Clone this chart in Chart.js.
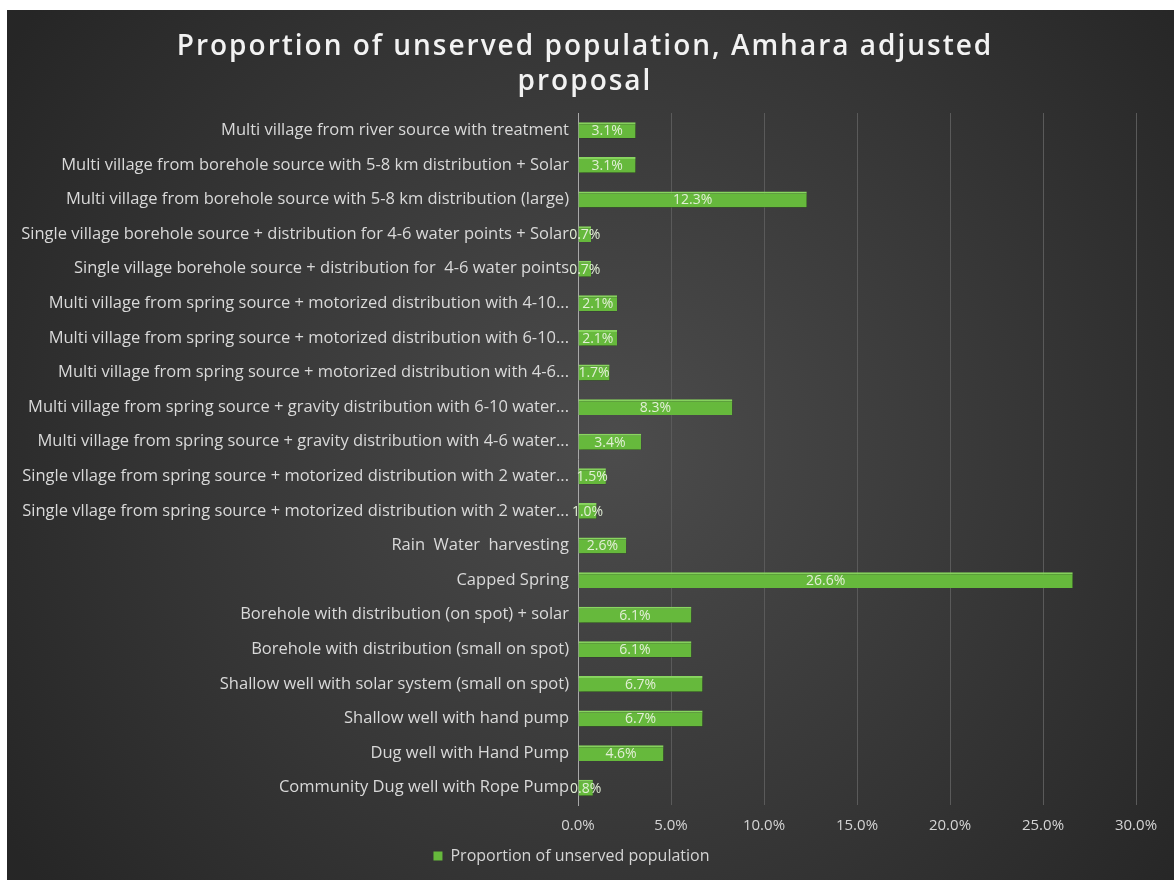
<!DOCTYPE html>
<html>
<head>
<meta charset="utf-8">
<title>Proportion of unserved population</title>
<script src="https://cdn.jsdelivr.net/npm/chart.js@4.4.1/dist/chart.umd.min.js"></script>
<style>
  html, body { margin: 0; padding: 0; background: #ffffff; }
  #wrap { position: absolute; left: 7px; top: 10px; width: 1167px; height: 870px; }
</style>
</head>
<body>
<div id="wrap"><canvas id="unservedChart"></canvas></div>
<script>
// scheme types, listed top to bottom as they appear on the chart
var schemeLabels = [
  'Multi village from river source with treatment',
  'Multi village from borehole source with 5-8 km distribution + Solar',
  'Multi village from borehole source with 5-8 km distribution (large)',
  'Single village borehole source + distribution for 4-6 water points + Solar',
  'Single village borehole source + distribution for  4-6 water points',
  'Multi village from spring source + motorized distribution with 4-10...',
  'Multi village from spring source + motorized distribution with 6-10...',
  'Multi village from spring source + motorized distribution with 4-6...',
  'Multi village from spring source + gravity distribution with 6-10 water...',
  'Multi village from spring source + gravity distribution with 4-6 water...',
  'Single vllage from spring source + motorized distribution with 2 water...',
  'Single vllage from spring source + motorized distribution with 2 water...',
  'Rain  Water  harvesting',
  'Capped Spring',
  'Borehole with distribution (on spot) + solar',
  'Borehole with distribution (small on spot)',
  'Shallow well with solar system (small on spot)',
  'Shallow well with hand pump',
  'Dug well with Hand Pump',
  'Community Dug well with Rope Pump'
];

// share of unserved population, in percent
var unservedShare = [3.1, 3.1, 12.3, 0.7, 0.7, 2.1, 2.1, 1.7, 8.3, 3.4, 1.5, 1.0, 2.6, 26.6, 6.1, 6.1, 6.7, 6.7, 4.6, 0.8];

// x axis ticks, in percent
var shareTicks = [0, 5, 10, 15, 20, 25, 30];

var seriesName = 'Proportion of unserved population';
var titleLines = ['Proportion of unserved population, Amhara adjusted', 'proposal'];

// dark radial backdrop behind the whole chart
var darkBackground = {
  id: 'darkBackground',
  beforeDraw: function (chart) {
    var ctx = chart.ctx, w = chart.width, h = chart.height;
    var g = ctx.createRadialGradient(w * 0.52, h * 0.5, 0, w * 0.52, h * 0.5, w * 0.62);
    g.addColorStop(0, '#4c4c4c');
    g.addColorStop(1, '#262626');
    ctx.save();
    ctx.fillStyle = g;
    ctx.fillRect(0, 0, w, h);
    ctx.restore();
  }
};

// two-line spaced-out heading
var spacedTitle = {
  id: 'spacedTitle',
  afterDraw: function (chart) {
    var ctx = chart.ctx;
    ctx.save();
    ctx.font = '600 28px "Open Sans"';
    ctx.letterSpacing = '2px';
    ctx.fillStyle = '#f2f2f2';
    ctx.textAlign = 'center';
    ctx.textBaseline = 'middle';
    ctx.fillText(titleLines[0], 578, 37);
    ctx.fillText(titleLines[1], 578, 72);
    ctx.restore();
  }
};

// soft drop shadow under the bars
var barShadow = {
  id: 'barShadow',
  beforeDatasetsDraw: function (chart) {
    var ctx = chart.ctx;
    ctx.save();
    ctx.shadowColor = 'rgba(0,0,0,0.7)';
    ctx.shadowBlur = 4;
    ctx.shadowOffsetX = 1;
    ctx.shadowOffsetY = 3;
  },
  afterDatasetsDraw: function (chart) {
    chart.ctx.restore();
  }
};

// percentage written in the middle of each bar
var valueLabels = {
  id: 'valueLabels',
  afterDatasetsDraw: function (chart) {
    var ctx = chart.ctx;
    var meta = chart.getDatasetMeta(0);
    ctx.save();
    ctx.font = '14px "Open Sans"';
    ctx.fillStyle = '#e2efd6';
    ctx.textAlign = 'center';
    ctx.textBaseline = 'middle';
    meta.data.forEach(function (bar, i) {
      ctx.fillText(unservedShare[i].toFixed(1) + '%', (bar.x + bar.base) / 2, bar.y + 1);
    });
    ctx.restore();
  }
};

var ctx = document.getElementById('unservedChart').getContext('2d');
var unservedChart = new Chart(ctx, {
  type: 'bar',
  data: {
    labels: schemeLabels,
    datasets: [{
      label: seriesName,
      data: unservedShare,
      backgroundColor: '#66b93c',
      borderColor: '#8ad860',
      borderWidth: { top: 2, right: 0, bottom: 0, left: 0 },
      borderSkipped: false,
      categoryPercentage: 1.0,
      barPercentage: 0.46
    }]
  },
  options: {
    indexAxis: 'y',
    responsive: true,
    maintainAspectRatio: false,
    animation: false,
    layout: { padding: { left: 0, right: 38, top: 103, bottom: 6 } },
    scales: {
      x: {
        min: 0,
        max: 30,
        afterBuildTicks: function (scale) {
          scale.ticks = shareTicks.map(function (v) { return { value: v }; });
        },
        afterFit: function (scale) { scale.height = 33; },
        grid: { color: '#5a5a5a', lineWidth: 1, drawTicks: false },
        border: { display: false },
        ticks: {
          color: '#d4d4d4',
          font: { family: 'Open Sans', size: 15 },
          padding: 12,
          callback: function (v) { return Number(v).toFixed(1) + '%'; }
        }
      },
      y: {
        afterFit: function (scale) { scale.width = 571; },
        grid: { display: false, drawTicks: false },
        border: { color: '#a8a8a8', width: 1 },
        ticks: {
          color: '#d9d9d9',
          font: { family: 'Open Sans', size: 16.5 },
          padding: 9,
          autoSkip: false
        }
      }
    },
    plugins: {
      title: { display: false },
      legend: {
        position: 'bottom',
        labels: {
          color: '#d4d4d4',
          font: { family: 'Open Sans', size: 16 },
          boxWidth: 9,
          boxHeight: 9,
          padding: 10,
          generateLabels: function (chart) {
            return Chart.defaults.plugins.legend.labels.generateLabels(chart).map(function (item) {
              item.lineWidth = 0;
              item.fillStyle = '#66b93c';
              return item;
            });
          }
        }
      },
      tooltip: { enabled: false }
    }
  },
  plugins: [darkBackground, barShadow, valueLabels, spacedTitle]
});
</script>
</body>
</html>
